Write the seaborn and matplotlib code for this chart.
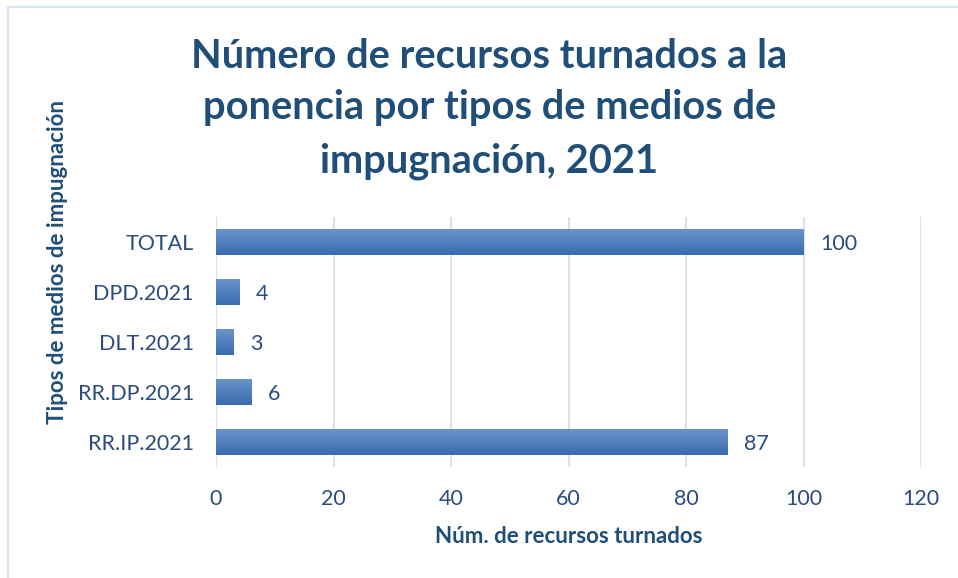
import numpy as np
import pandas as pd
import matplotlib.pyplot as plt
import seaborn as sns
from matplotlib.colors import LinearSegmentedColormap

# Data
categorias = ["TOTAL", "DPD.2021", "DLT.2021", "RR.DP.2021", "RR.IP.2021"]
recursos = [100, 4, 3, 6, 87]
x_ticks = [0, 20, 40, 60, 80, 100, 120]
titulo = ["Número de recursos turnados a la",
          "ponencia por tipos de medios de",
          "impugnación, 2021"]

df = pd.DataFrame({"Tipo": categorias, "Recursos": recursos})

sns.set_theme(style="white")
plt.rcParams["font.family"] = ["Lato", "DejaVu Sans"]

azul = "#1f4e79"
texto = "#2b4c7e"

fig = plt.figure(figsize=(9.58, 5.78), dpi=100)
ax = fig.add_axes([216 / 958, 1 - 467 / 578, 705 / 958, 250 / 578])

sns.barplot(data=df, x="Recursos", y="Tipo", orient="h", width=0.52,
            color="#4a7ebf", ax=ax)

# gradient fill on each bar (lighter on top, darker at bottom)
grad = LinearSegmentedColormap.from_list("g", ["#6a93ca", "#3a6cb0"])
for p in ax.patches:
    x0, y0 = p.get_x(), p.get_y()
    w, h = p.get_width(), p.get_height()
    im = ax.imshow(np.linspace(0, 1, 64).reshape(-1, 1), cmap=grad,
                   extent=[x0, x0 + w, y0 + h, y0], aspect="auto", zorder=3,
                   origin="upper")
    im.set_clip_path(p)
    p.set_facecolor("none")
    p.set_edgecolor("none")

for i, v in enumerate(recursos):
    ax.text(v + 2.8, i + 0.03, str(v), va="center", ha="left",
            fontsize=15.5, color=texto)

ax.set_xlim(0, 120)
ax.set_ylim(len(categorias) - 0.5, -0.5)
ax.set_xticks(x_ticks)
ax.xaxis.grid(True, color="#d9e3f0", linewidth=1.5)
ax.set_axisbelow(True)
for s in ax.spines.values():
    s.set_visible(False)
ax.tick_params(axis="both", length=0, labelsize=15.5, labelcolor=texto)
ax.tick_params(axis="y", pad=16)
ax.tick_params(axis="x", pad=16)
ax.set_xlabel("")
ax.set_ylabel("")

fig.text(568.5 / 958, 1 - 543 / 578, "Núm. de recursos turnados",
         ha="center", va="baseline", fontsize=16, fontweight="bold", color=azul)
fig.text(58 / 958, 1 - 262 / 578, "Tipos de medios de impugnación", rotation=90,
         ha="center", va="center", fontsize=16, fontweight="bold", color=azul)

for linea, base in zip(titulo, [68, 119, 172]):
    fig.text(489.5 / 958, 1 - base / 578, linea, ha="center", va="baseline",
             fontsize=28.7, fontweight="bold", color=azul)

# chart border
fig.add_artist(plt.Line2D([8 / 958, 8 / 958], [0, 1 - 7 / 578], color="#d9e3f0", lw=1.5))
fig.add_artist(plt.Line2D([8 / 958, 1], [1 - 7 / 578, 1 - 7 / 578], color="#d9e3f0", lw=1.5))

fig.savefig("out.png", dpi=100)
